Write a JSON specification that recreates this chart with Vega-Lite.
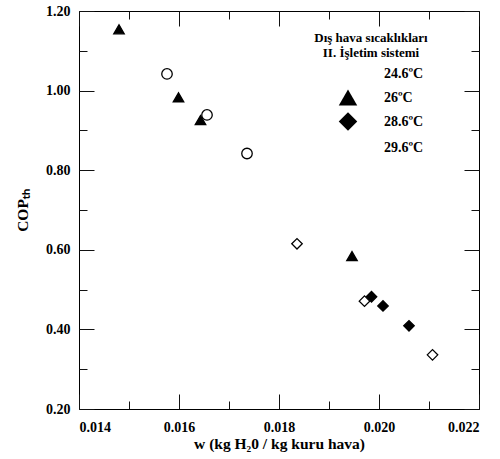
{
  "$schema": "https://vega.github.io/schema/vega-lite/v6.json",
  "width": 400,
  "height": 398,
  "autosize": {"type": "none"},
  "padding": {"left": 79, "top": 11, "right": 21, "bottom": 50},
  "title": {"text": "(b)", "font": "Liberation Serif", "fontWeight": "bold", "fontSize": 14, "dx": -38, "offset": 8, "anchor": "middle"},
  "config": {
    "view": {"stroke": "black", "strokeWidth": 1},
    "axis": {"grid": false, "labelFont": "Liberation Serif", "labelFontWeight": "bold", "labelFontSize": 14,
      "titleFont": "Liberation Serif", "titleFontWeight": "bold", "titleFontSize": 15.5},
    "legend": {"orient": "none", "legendX": 235, "legendY": 21, "padding": 0,
      "titleFont": "Liberation Serif", "titleFontWeight": "bold", "titleFontSize": 13, "titleLineHeight": 14.5, "titlePadding": 4,
      "titleAnchor": "middle", "titleAlign": "center",
      "labelFont": "Liberation Serif", "labelFontWeight": "bold", "labelFontSize": 14,
      "symbolSize": 340, "symbolStrokeWidth": 1.5, "symbolOffset": 20, "labelOffset": 26, "rowPadding": 0}
  },
  "data": {"values": [
    {"w": 0.01576, "cop": 1.042, "t": "24.6ºC"},
    {"w": 0.0148, "cop": 1.154, "t": "26ºC"},
    {"w": 0.01599, "cop": 0.983, "t": "26ºC"},
    {"w": 0.01643, "cop": 0.926, "t": "26ºC"},
    {"w": 0.01946, "cop": 0.584, "t": "26ºC"},
    {"w": 0.01656, "cop": 0.939, "t": "24.6ºC"},
    {"w": 0.01736, "cop": 0.842, "t": "24.6ºC"},
    {"w": 0.01985, "cop": 0.482, "t": "28.6ºC"},
    {"w": 0.02008, "cop": 0.459, "t": "28.6ºC"},
    {"w": 0.0206, "cop": 0.409, "t": "28.6ºC"},
    {"w": 0.01836, "cop": 0.615, "t": "29.6ºC"},
    {"w": 0.01971, "cop": 0.471, "t": "29.6ºC"},
    {"w": 0.02107, "cop": 0.336, "t": "29.6ºC"}
  ]},
  "resolve": {"axis": {"x": "independent", "y": "independent"}},
  "layer": [
    {
      "mark": {"type": "point", "filled": false, "stroke": "black", "strokeWidth": 1.3, "size": 110, "opacity": 1},
      "encoding": {
        "x": {"field": "w", "type": "quantitative", "scale": {"domain": [0.014, 0.022], "nice": false, "zero": false},
          "axis": {"orient": "bottom", "values": [0.014, 0.016, 0.018, 0.020, 0.022], "format": ".3f", "domain": false, "tickColor": "#111111", "tickWidth": 1, "labelColor": "black", "titleColor": "black", "offset": -15, "tickSize": 15, "labelPadding": 11, "title": "w (kg H₂0 / kg kuru hava)", "titlePadding": 2}},
        "y": {"field": "cop", "type": "quantitative", "scale": {"domain": [0.2, 1.2], "nice": false, "zero": false},
          "axis": {"orient": "left", "values": [0.2, 0.4, 0.6, 0.8, 1.0, 1.2], "format": ".2f", "domain": false, "tickColor": "#111111", "tickWidth": 1, "labelColor": "black", "titleColor": "black", "offset": -15, "tickSize": 15, "labelPadding": 9, "title": "COPₜₕ", "titlePadding": 15}},
        "shape": {"field": "t", "type": "nominal", "title": ["Dış hava sıcaklıkları", "II. İşletim sistemi"],
          "scale": {"domain": ["24.6ºC", "26ºC", "28.6ºC", "29.6ºC"], "range": ["circle", "triangle-up", "diamond", "diamond"]},
          "legend": {"symbolStrokeColor": "#111111", "symbolOpacity": 1, "titleColor": "black", "labelColor": "black"}},
        "fill": {"field": "t", "type": "nominal", "title": ["Dış hava sıcaklıkları", "II. İşletim sistemi"],
          "scale": {"domain": ["24.6ºC", "26ºC", "28.6ºC", "29.6ºC"], "range": ["white", "black", "black", "white"]},
          "legend": {"symbolStrokeColor": "#111111", "symbolOpacity": 1, "titleColor": "black", "labelColor": "black"}}
      }
    },
    {
      "mark": {"type": "point", "opacity": 0},
      "encoding": {
        "x": {"field": "w", "type": "quantitative", "axis": {"orient": "bottom", "values": [0.015, 0.017, 0.019, 0.021], "labels": false, "domain": false, "tickColor": "#111111", "tickWidth": 1, "offset": -8, "tickSize": 8, "title": null}},
        "y": {"field": "cop", "type": "quantitative", "axis": {"orient": "left", "values": [0.3, 0.5, 0.7, 0.9, 1.1], "labels": false, "domain": false, "tickColor": "#111111", "tickWidth": 1, "offset": -8, "tickSize": 8, "title": null}}
      }
    },
    {
      "mark": {"type": "point", "opacity": 0},
      "encoding": {
        "x": {"field": "w", "type": "quantitative", "axis": {"orient": "top", "values": [0.014, 0.016, 0.018, 0.020, 0.022], "labels": false, "domain": false, "tickColor": "#111111", "tickWidth": 1, "offset": -15, "tickSize": 15, "title": null}},
        "y": {"field": "cop", "type": "quantitative", "axis": {"orient": "right", "values": [0.2, 0.4, 0.6, 0.8, 1.0, 1.2], "labels": false, "domain": false, "tickColor": "#111111", "tickWidth": 1, "offset": -15, "tickSize": 15, "title": null}}
      }
    },
    {
      "mark": {"type": "point", "opacity": 0},
      "encoding": {
        "x": {"field": "w", "type": "quantitative", "axis": {"orient": "top", "values": [0.015, 0.017, 0.019, 0.021], "labels": false, "domain": false, "tickColor": "#111111", "tickWidth": 1, "offset": -8, "tickSize": 8, "title": null}},
        "y": {"field": "cop", "type": "quantitative", "axis": {"orient": "right", "values": [0.3, 0.5, 0.7, 0.9, 1.1], "labels": false, "domain": false, "tickColor": "#111111", "tickWidth": 1, "offset": -8, "tickSize": 8, "title": null}}
      }
    }
  ]
}
